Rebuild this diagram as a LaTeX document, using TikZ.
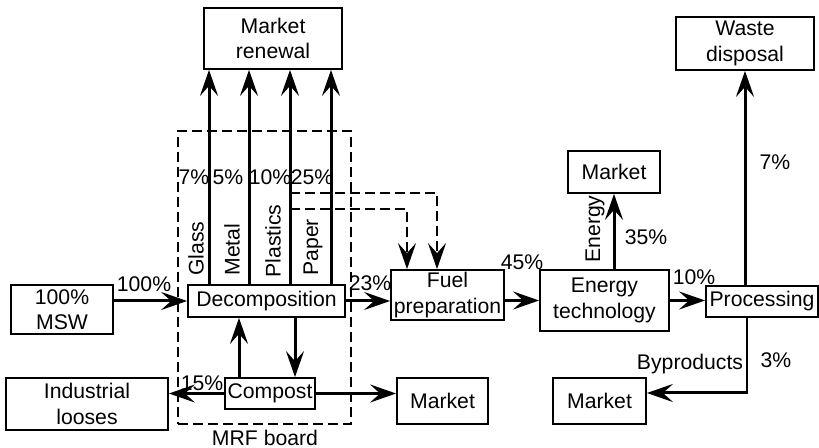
\documentclass[tikz,border=0pt]{standalone}
\usepackage{fontspec}
\setmainfont{Liberation Sans}
\usetikzlibrary{arrows.meta}

\begin{document}
\begin{tikzpicture}[
  x=0.5pt, y=-0.5pt,
  font=\fontsize{10.6}{12.6}\selectfont,
  box/.style={
    rectangle, draw=black, line width=0.9pt,
    fill=white, align=center,
    inner sep=1pt
  },
  groupbox/.style={
    rectangle, draw=black, line width=1pt, dash pattern=on 5pt off 2.5pt,
    fill=none
  },
  arrow/.style={-{Stealth[length=13pt, width=9pt, inset=5pt]}, line width=1.5pt},
  dasharrow/.style={arrow, line width=1.4pt, dash pattern=on 5pt off 2.5pt},
  pct/.style={inner sep=0pt},
  vlabel/.style={rotate=90, anchor=west, inner sep=0pt}
]
\useasboundingbox (0,0) rectangle (819,448);

% =============================================================================
% MRF board (dashed) and the boxes inside it
% =============================================================================
\node[groupbox, minimum width=86.5pt, minimum height=146.5pt] (mrf) at (264.5, 277.5) {};
\node[pct] (mrflabel) at (265, 438) {MRF board};

\node[box, minimum width=78.5pt, minimum height=16pt] (decomp) at (266.5, 301) {Decomposition};
\node[box, minimum width=45pt, minimum height=15.5pt] (compost) at (270, 393.5) {Compost};

% --- Left column
\node[box, minimum width=51pt, minimum height=24.5pt] (msw) at (62, 309.5) {100\%\\MSW};
\node[box, minimum width=81pt, minimum height=26pt] (industrial) at (87, 404) {Industrial\\looses};

% --- Top row
\node[box, minimum width=69pt, minimum height=30.5pt] (renewal) at (273, 38.5) {Market\\renewal};
\node[box, minimum width=69pt, minimum height=26.5pt] (waste) at (745, 43.5) {Waste\\disposal};
\node[box, minimum width=46pt, minimum height=21pt] (marketen) at (614, 172) {Market};

% --- Main row
\node[box, minimum width=56.5pt, minimum height=25pt] (fuel) at (447.5, 295) {Fuel\\preparation};
\node[box, minimum width=64.5pt, minimum height=30.5pt] (energy) at (604.5, 300.5) {Energy\\technology};
\node[box, minimum width=56pt, minimum height=15.5pt] (proc) at (762, 301.5) {Processing};

% --- Bottom row
\node[box, minimum width=45.5pt, minimum height=23pt] (marketco) at (442.5, 401) {Market};
\node[box, minimum width=46.5pt, minimum height=23pt] (marketby) at (599.5, 401) {Market};

% =============================================================================
% Arrows
% =============================================================================
\coordinate (cglass) at (209, 0);
\coordinate (cmetal) at (249, 0);
\coordinate (cplastics) at (290, 0);
\coordinate (cpaper) at (331, 0);
\foreach \c in {cglass, cmetal, cplastics, cpaper}
  \draw[arrow] (decomp.north -| \c) -- (renewal.south -| \c);

\draw[arrow] (msw.east |- decomp.west) -- (decomp.west);
\draw[arrow] (decomp.east) -- (fuel.west |- decomp.east);
\draw[arrow] (fuel.east |- energy.west) -- (energy.west);
\draw[arrow] (energy.east) -- (energy.east -| proc.west);
\draw[arrow] (marketen |- energy.north) -- (marketen.south);
\draw[arrow] (waste |- proc.north) -- (waste.south);

% --- Byproducts leave Processing
\coordinate (byp) at (747, 393);
\draw[line width=0.6pt] (proc.south -| byp) -- (byp);
\draw[arrow] ([xshift=0.3pt]byp) -- (marketby.east |- byp);

% --- Compost loop
\coordinate (cup) at (239, 0);
\coordinate (cdown) at (295, 0);
\draw[arrow] (compost.north -| cup) -- (decomp.south -| cup);
\draw[arrow] (decomp.south -| cdown) -- (compost.north -| cdown);
\draw[arrow] (compost.west) -- (industrial.east |- compost.west);
\draw[arrow] (compost.east) -- (marketco.west |- compost.east);

% --- Plastics to fuel preparation (dashed)
\coordinate (dhi) at (437, 193);
\coordinate (dlo) at (407, 209);
\draw[dasharrow] (cplastics |- dhi) -- (dhi) -- (fuel.north -| dhi);
\draw[dasharrow] (cplastics |- dlo) -- (dlo) -- (fuel.north -| dlo);

% =============================================================================
% Labels
% =============================================================================
\node[vlabel] (lglass) at (196, 276) {Glass};
\node[vlabel] (lmetal) at (232, 276) {Metal};
\node[vlabel] (lplastics) at (273, 278) {Plastics};
\node[vlabel] (lpaper) at (313, 276) {Paper};
\node[vlabel] (lenergy) at (595, 263) {Energy};

\node[pct] (p7) at (194, 177) {7\%};
\node[pct] (p5) at (228, 177) {5\%};
\node[pct] (p10) at (270, 177) {10\%};
\node[pct] (p25) at (312, 177) {25\%};
\node[pct] (p100) at (144, 284) {100\%};
\node[pct] (p23) at (370, 283) {23\%};
\node[pct] (p15) at (202, 383) {15\%};
\node[pct] (p45) at (522, 262) {45\%};
\node[pct] (p35) at (646, 237) {35\%};
\node[pct] (p10b) at (694, 277) {10\%};
\node[pct] (p7b) at (775, 162) {7\%};
\node[pct] (p3) at (776, 360) {3\%};
\node[pct] (lbyp) at (690, 364) {Byproducts};

\end{tikzpicture}
\end{document}
